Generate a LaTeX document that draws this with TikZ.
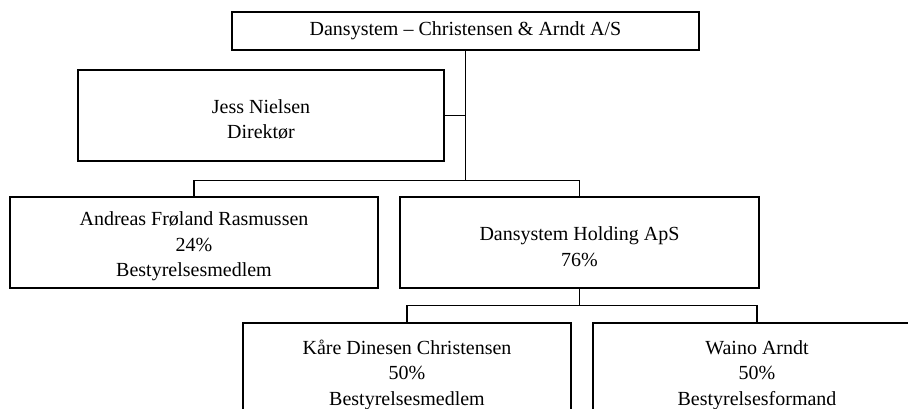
\documentclass[tikz,border=0pt]{standalone}
\usepackage{fontspec}
\setmainfont{Liberation Serif}
\usepackage{tikz}

\newcommand{\firstrow}{\rule{0pt}{22pt}}

\begin{document}
\begin{tikzpicture}[x=1pt, y=-1pt, line width=1.1pt,
    box/.style={rectangle, draw, align=center, inner sep=0pt, font=\fontsize{20}{25.5}\selectfont}]
  \useasboundingbox (0,0) rectangle (908,409);
  \clip (0,0) rectangle (908,409);
  \node (top) [box, minimum width=467pt, minimum height=38pt] at (465.5, 31) {Dansystem -- Christensen \& Arndt A/S};
  \node (jess) [box, minimum width=366pt, minimum height=91pt] at (261, 115.5) {\firstrow Jess Nielsen\\ Direktør};
  \node (andreas) [box, minimum width=368pt, minimum height=91pt] at (194, 242.5) {\firstrow Andreas Frøland Rasmussen\\ 24\%\\ Bestyrelsesmedlem};
  \node (holding) [box, minimum width=359pt, minimum height=91pt] at (579.5, 242.5) {\firstrow Dansystem Holding ApS\\ 76\%};
  \node (kare) [box, minimum width=328pt, minimum height=96pt] at (407, 371) {\firstrow Kåre Dinesen Christensen\\ 50\%\\ Bestyrelsesmedlem};
  \node (waino) [box, minimum width=328pt, minimum height=96pt] at (757, 371) {\firstrow Waino Arndt\\ 50\%\\ Bestyrelsesformand};
  \draw (jess.east) -| (top.south);
  \draw (top.south) -- ++(0,130) -| (andreas.north);
  \draw (top.south) -- ++(0,130) -| (holding.north);
  \draw (holding.south) -- ++(0,17) -| (kare.north);
  \draw (holding.south) -- ++(0,17) -| (waino.north);
\end{tikzpicture}
\end{document}
